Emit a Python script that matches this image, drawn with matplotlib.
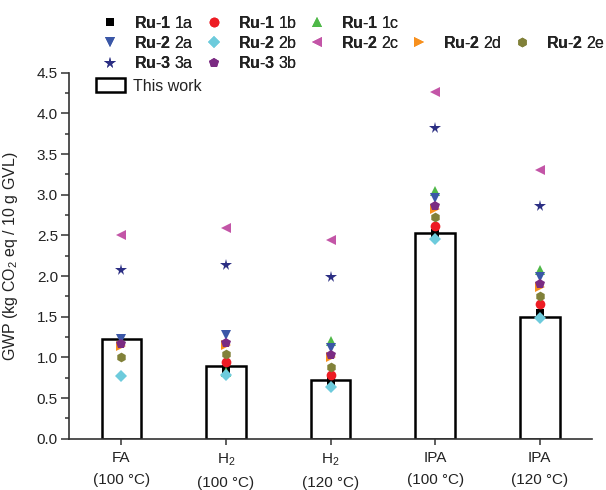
import numpy as np
import matplotlib
matplotlib.use('Agg')
import matplotlib.pyplot as plt
from matplotlib.lines import Line2D
from matplotlib.patches import Patch

plt.rcParams['font.family'] = ['Liberation Sans', 'DejaVu Sans']
plt.rcParams['mathtext.fontset'] = 'custom'
plt.rcParams['mathtext.rm'] = 'Liberation Sans'
plt.rcParams['mathtext.it'] = 'Liberation Sans:italic'
plt.rcParams['mathtext.bf'] = 'Liberation Sans:bold'

# categories and values
categories = ['FA\n(100 °C)', 'H$_2$\n(100 °C)', 'H$_2$\n(120 °C)',
              'IPA\n(100 °C)', 'IPA\n(120 °C)']
this_work = [1.23, 0.895, 0.72, 2.53, 1.495]

nan = np.nan
ru1_1a = [nan, 0.86, 0.71, 2.53, 1.54]
ru1_1b = [nan, 0.94, 0.78, 2.61, 1.65]
ru1_1c = [nan, 0.82, 1.20, 3.04, 2.07]
ru2_2a = [1.23, 1.27, 1.11, 2.96, 1.99]
ru2_2b = [0.77, 0.78, 0.63, 2.46, 1.48]
ru2_2c = [2.50, 2.59, 2.44, 4.26, 3.30]
ru2_2d = [1.14, 1.15, 1.00, 2.82, 1.87]
ru2_2e = [1.01, 1.04, 0.88, 2.72, 1.75]
ru3_3a = [2.07, 2.14, 1.99, 3.82, 2.86]
ru3_3b = [1.16, 1.18, 1.03, 2.86, 1.90]

series = [
    (ru1_1a, 's', '#000000', r'$\mathbf{Ru}$-$\mathbf{1}$ 1a', 6),
    (ru1_1b, 'o', '#ed1c24', r'$\mathbf{Ru}$-$\mathbf{1}$ 1b', 7),
    (ru1_1c, '^', '#4fb848', r'$\mathbf{Ru}$-$\mathbf{1}$ 1c', 7.5),
    (ru2_2a, 'v', '#3a57a7', r'$\mathbf{Ru}$-$\mathbf{2}$ 2a', 7.5),
    (ru2_2c, '<', '#c355a7', r'$\mathbf{Ru}$-$\mathbf{2}$ 2c', 7.5),
    (ru2_2d, '>', '#f7901e', r'$\mathbf{Ru}$-$\mathbf{2}$ 2d', 7),
    (ru2_2e, 'h', '#818139', r'$\mathbf{Ru}$-$\mathbf{2}$ 2e', 7),
    (ru3_3a, '*', '#2b2e83', r'$\mathbf{Ru}$-$\mathbf{3}$ 3a', 8.5),
    (ru3_3b, 'p', '#7b2b82', r'$\mathbf{Ru}$-$\mathbf{3}$ 3b', 7.5),
    (ru2_2b, 'D', '#6dcbdc', r'$\mathbf{Ru}$-$\mathbf{2}$ 2b', 6),
]

dark = '#222222'
fig = plt.figure(figsize=(6.06, 4.9), dpi=100)
ax = fig.add_axes([0.114, 0.1047, 0.863, 0.747])

x = np.arange(len(categories))
ax.bar(x, this_work, width=0.38, facecolor='white', edgecolor='black',
       linewidth=1.8, zorder=2)

handles = {}
for vals, m, c, lab, ms in series:
    h, = ax.plot(x, vals, linestyle='none', marker=m, color=c, ms=ms,
                 markeredgewidth=0, zorder=3, label=lab)
    handles[lab[-2:]] = h

ax.set_xlim(-0.5, 4.5)
ax.set_ylim(0, 4.5)
ax.set_xticks(x)
ax.set_xticklabels(categories, fontsize=11, color=dark, linespacing=1.75)
ax.set_yticks(np.arange(0, 4.51, 0.5))
ax.set_yticks(np.arange(0, 4.51, 0.25), minor=True)
ax.set_yticklabels(['%.1f' % v for v in np.arange(0, 4.51, 0.5)],
                   fontsize=11, color=dark)
ax.tick_params(axis='y', which='major', length=5.5, width=1.1, pad=2.5,
               color='#333333')
ax.tick_params(axis='y', which='minor', length=2.8, width=1.1,
               color='#333333')
ax.tick_params(axis='x', length=4.5, width=1.1, pad=4.5, color='#333333')
for s in ['top', 'right']:
    ax.spines[s].set_visible(False)
for s in ['left', 'bottom']:
    ax.spines[s].set_linewidth(1.2)
    ax.spines[s].set_color('#333333')

ax.set_ylabel('GWP (kg CO$_2$ eq / 10 g GVL)', fontsize=11.5, color=dark)
ax.yaxis.set_label_coords(-0.094, 0.5)

# legend laid out column by column
blank = Line2D([], [], linestyle='none', marker='')
order = [('1a', '2a', '3a'), ('1b', '2b', '3b'), ('1c', '2c', None),
         (None, '2d', None), (None, '2e', None)]
leg_h, leg_l = [], []
for col in order:
    for key in col:
        if key is None:
            leg_h.append(blank)
            leg_l.append('')
        else:
            leg_h.append(handles[key])
            leg_l.append(handles[key].get_label())
leg = fig.legend(leg_h, leg_l, ncol=5, loc='upper left',
                 bbox_to_anchor=(0.157, 0.97), frameon=False, fontsize=11.5,
                 handlelength=1.9, handletextpad=0.55, columnspacing=0.3,
                 labelspacing=0.27, borderpad=0, borderaxespad=0,
                 labelcolor=dark)
fig.add_artist(leg)
fig.legend([Patch(facecolor='white', edgecolor='black', linewidth=1.8)],
           ['This work'], loc='upper left', bbox_to_anchor=(0.159, 0.84),
           frameon=False, fontsize=11.5, handlelength=1.8, handleheight=0.9,
           handletextpad=0.5, borderpad=0, borderaxespad=0, labelcolor=dark)

fig.savefig('out.png', dpi=100)
